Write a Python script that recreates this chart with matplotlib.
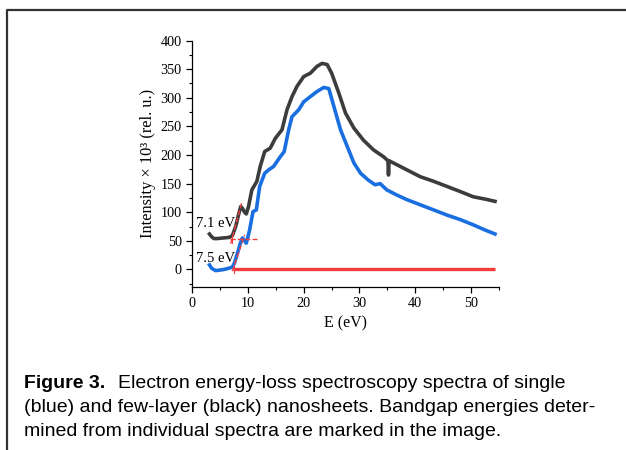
import numpy as np
import matplotlib
matplotlib.use('Agg')
import matplotlib.pyplot as plt
from matplotlib.ticker import MultipleLocator
from matplotlib.lines import Line2D

# ---- data ----
e_black = [3.1, 3.5, 3.9, 4.5, 5.5, 6.6, 7.2, 7.8, 8.3, 8.7, 9.0, 9.4, 9.7, 10.1, 10.7,
           11.6, 12.2, 13.0, 14.0, 14.9, 16.1, 17.0, 17.9, 18.8, 20.0, 21.2, 22.4, 23.3,
           24.2, 25.0, 26.3, 27.5, 29.0, 30.7, 32.5, 34.3, 35.1, 35.2, 35.3, 36.1, 38.5,
           40.9, 43.3, 45.7, 48.1, 50.4, 52.5, 54.3]
v_black = [62, 57, 54, 54, 55, 56, 59, 75, 95, 110, 107, 100, 97, 110, 139,
           154, 180, 206, 212, 229, 244, 279, 302, 320, 337, 343, 355, 360,
           358, 343, 308, 273, 247, 226, 209, 197, 190, 165, 190, 186, 174,
           162, 154, 145, 136, 127, 123, 119]

e_blue = [3.1, 3.5, 4.2, 5.0, 5.7, 6.5, 7.2, 7.6, 8.2, 8.6, 9.0, 9.4, 9.7, 10.3, 10.9,
          11.5, 12.1, 13.0, 13.7, 14.6, 15.8, 16.5, 17.3, 17.9, 19.1, 20.0, 21.2, 22.4,
          23.6, 24.5, 25.4, 26.6, 27.8, 29.0, 30.2, 31.6, 32.8, 33.7, 34.9, 36.7, 38.5,
          40.9, 43.3, 45.7, 48.1, 50.4, 52.5, 54.3]
v_blue = [8, 2, -2, -1, 0, 2, 4, 12, 31, 45, 55, 50, 46, 69, 101,
          104, 145, 168, 174, 180, 197, 206, 244, 267, 279, 293, 302, 311,
          318, 316, 285, 244, 215, 186, 168, 156, 148, 150, 139, 130, 122,
          113, 104, 95, 87, 78, 69, 62]

base_e = [7.3, 54.3]
base_v = [0, 0]

gap_black = 7.1
gap_blue = 7.5
tan_black_e = [6.9, 8.9]
tan_black_v = [45, 117]
tan_blue_e = [7.2, 9.4]
tan_blue_v = [-3, 60]
level_e = [6.7, 11.6]
level_v = [53, 53]

caption_bold = "Figure 3."
caption_lines = ["Electron energy-loss spectroscopy spectra of single",
                 "(blue) and few-layer (black) nanosheets. Bandgap energies deter-",
                 "mined from individual spectra are marked in the image."]

# ---- figure ----
fig = plt.figure(figsize=(6.26, 4.5), dpi=100)
ax = fig.add_axes([0.307, 0.363, 0.490, 0.547])

serif = 'Liberation Serif'
red = '#f03c3c'

ax.plot(base_e, base_v, color=red, lw=2.4, solid_capstyle='butt', zorder=2)
ax.plot(e_black, v_black, color='#3c3c3c', lw=2.6, zorder=3)
ax.plot(e_blue, v_blue, color='#1a6fe0', lw=2.6, zorder=3)
ax.plot(tan_black_e, tan_black_v, color=red, lw=1, ls='--', zorder=4)
ax.plot(tan_blue_e, tan_blue_v, color=red, lw=1, ls='--', zorder=4)
ax.plot(level_e, level_v, color=red, lw=1, ls='--', zorder=4)
ax.plot([gap_blue, gap_blue], [-7, 7], color=red, lw=0.8, zorder=4)
ax.plot([gap_black, gap_black], [47, 59], color=red, lw=0.8, zorder=4)

ax.text(0.6, 80, f"{gap_black} eV", family=serif, fontsize=10.5, va='center', ha='left')
ax.text(0.6, 20, f"{gap_blue} eV", family=serif, fontsize=10.5, va='center', ha='left')

ax.set_xlim(0, 55)
ax.set_ylim(-30, 400)
ax.xaxis.set_major_locator(MultipleLocator(10))
ax.xaxis.set_minor_locator(MultipleLocator(5))
ax.yaxis.set_major_locator(MultipleLocator(50))
ax.yaxis.set_minor_locator(MultipleLocator(25))
ax.spines['top'].set_visible(False)
ax.spines['right'].set_visible(False)
for s in ('left', 'bottom'):
    ax.spines[s].set_linewidth(0.9)
ax.tick_params(which='major', direction='out', length=4, width=0.9, labelsize=10.3)
ax.tick_params(which='minor', direction='out', length=2.5, width=0.8)
for lab in ax.get_xticklabels() + ax.get_yticklabels():
    lab.set_family(serif)

ax.set_xlabel("E (eV)", family=serif, fontsize=11.5, labelpad=4)
ax.set_ylabel("Intensity \u00d7 10\u00b3 (rel. u.)", family=serif, fontsize=11.8, labelpad=3)

# frame around the figure (open at right and bottom, cut off)
fig.add_artist(Line2D([7 / 626, 7 / 626, 1.0], [0, 1 - 10 / 450, 1 - 10 / 450],
                      transform=fig.transFigure, color='#333333', lw=1.6))

# caption
sans = 'Liberation Sans'
fs = 14
cx = 24 / 626
ys = [1 - 383 / 450, 1 - 408 / 450, 1 - 432 / 450]
fig.text(cx, ys[0], caption_bold, family=sans, fontsize=fs, fontweight='bold', va='center')
fig.text(118 / 626, ys[0], caption_lines[0], family=sans, fontsize=fs, va='center')
fig.text(cx, ys[1], caption_lines[1], family=sans, fontsize=fs, va='center')
fig.text(cx, ys[2], caption_lines[2], family=sans, fontsize=fs, va='center')

fig.savefig('out.png', dpi=100)
